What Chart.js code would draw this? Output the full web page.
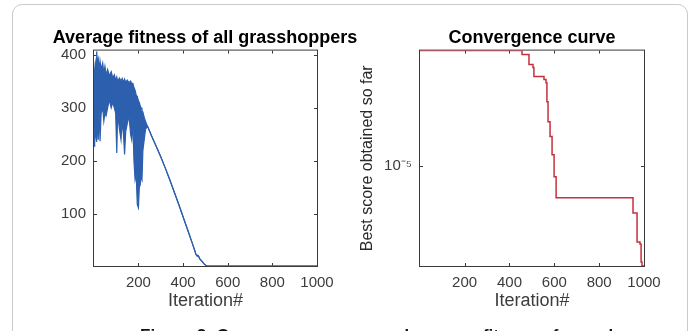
<!DOCTYPE html>
<html>
<head>
<meta charset="utf-8">
<script src="https://cdn.jsdelivr.net/npm/chart.js@4.4.1/dist/chart.umd.min.js"></script>
<style>
  html, body { margin: 0; padding: 0; background: #fff; }
  body { width: 696px; height: 331px; overflow: hidden; position: relative; }
  .frame { position: absolute; left: 12px; top: 4px; width: 674px; height: 420px; border: 1px solid #cacaca; border-radius: 10px; }
  canvas { position: absolute; left: 0; top: 0; }
  .caption { position: absolute; left: 140px; top: 326px; font: bold 17px "Liberation Sans", Arial, sans-serif; color: #111; white-space: nowrap; }
</style>
</head>
<body>
<div class="frame"></div>
<canvas id="fitnessChart" width="800" height="331"></canvas>
<canvas id="convergenceChart" width="800" height="331"></canvas>
<div class="caption">Figure 3: Convergence curve and average fitness of grasshoppers.</div>
<script>
const blue = "#2c5fae";
const red = "#c4303c";
const boxColor = "#3a3a3a";
const textColor = "#3c3c3c";

// left panel: noisy band of average fitness, then one smooth decay
const bandIters = [1, 4, 7, 10, 13, 16, 20, 24, 28, 33, 40, 45, 50, 55, 62, 70, 78, 85, 92, 98, 103, 107, 115, 122, 127, 133, 138, 143, 150, 158, 165, 170, 175, 180, 185, 190, 195, 200, 204, 208, 212, 216, 220, 226, 232, 241];
const bandHigh = [350, 372, 385, 375, 406, 385, 392, 370, 388, 372, 384, 365, 378, 362, 372, 360, 368, 356, 362, 352, 358, 350, 356, 350, 355, 348, 354, 348, 352, 347, 350, 345, 346, 338, 333, 324, 321, 313, 310, 304, 300, 295, 292, 282, 274, 265];
const bandLow = [228, 232, 300, 245, 236, 290, 240, 300, 237, 290, 300, 275, 290, 285, 300, 315, 300, 310, 300, 290, 215, 290, 260, 240, 275, 250, 212, 255, 270, 285, 250, 240, 275, 200, 165, 175, 118, 112, 150, 155, 170, 165, 220, 240, 260, 265];
const tailIters = [260, 280, 300, 320, 340, 360, 380, 400, 420, 440, 452, 458, 462, 468, 475, 485, 495, 505, 515, 600, 800, 1000];
const tailFitness = [246, 227, 208, 187, 165, 142, 119, 95, 71, 47, 32, 24, 22, 22, 16, 11, 6, 3, 2.5, 2.5, 2.5, 2.5];
const fitnessTicks = [100, 200, 300, 400];

// right panel: best score so far, stepwise on a log axis
const bestIters = [1, 456, 487, 505, 509, 554, 563, 567, 572, 581, 590, 599, 608, 951, 969, 982, 987, 991, 1000];
const bestScores = [5.23e-5, 4.94e-5, 4.28e-5, 4.1e-5, 3.6e-5, 3.45e-5, 3.3e-5, 2.51e-5, 1.88e-5, 1.52e-5, 1.17e-5, 8.53e-6, 6.31e-6, 5.08e-6, 3.35e-6, 3.25e-6, 2.51e-6, 2.37e-6, 2.37e-6];
const scoreTicks = [1e-5];

const iterTicks = [200, 400, 600, 800, 1000];

Chart.defaults.font.family = '"Liberation Sans", Arial, sans-serif';

const toPoints = (xs, ys) => xs.map((x, i) => ({ x, y: ys[i] }));

const supDigits = { "-": "\u207B", 0: "\u2070", 1: "\u00B9", 2: "\u00B2", 3: "\u00B3", 4: "\u2074", 5: "\u2075", 6: "\u2076", 7: "\u2077", 8: "\u2078", 9: "\u2079" };
const powerLabel = (v) => "10" + String(Math.round(Math.log10(v))).split("").map((c) => supDigits[c]).join("");

// matlab style box with small inward ticks
const axesBox = {
  id: "axesBox",
  beforeDatasetsDraw(chart) {
    const { ctx, chartArea: a, scales } = chart;
    ctx.save();
    ctx.strokeStyle = boxColor;
    ctx.lineWidth = 1;
    ctx.strokeRect(a.left - 0.5, a.top - 0.5, a.width + 1, a.height + 1);
    ctx.beginPath();
    scales.x.ticks.forEach((t) => {
      const px = Math.round(scales.x.getPixelForValue(t.value)) + 0.5;
      ctx.moveTo(px, a.bottom);
      ctx.lineTo(px, a.bottom - 3);
      ctx.moveTo(px, a.top);
      ctx.lineTo(px, a.top + 3);
    });
    scales.y.ticks.forEach((t) => {
      const py = Math.round(scales.y.getPixelForValue(t.value)) + 0.5;
      ctx.moveTo(a.left, py);
      ctx.lineTo(a.left + 3, py);
      ctx.moveTo(a.right, py);
      ctx.lineTo(a.right - 3, py);
    });
    ctx.stroke();
    ctx.restore();
  },
};

const iterationAxis = () => ({
  type: "linear",
  min: 1,
  max: 1000,
  afterBuildTicks: (s) => {
    s.ticks = iterTicks.map((v) => ({ value: v }));
  },
  afterFit: (s) => {
    s.height = 65;
  },
  grid: { display: false, drawTicks: false },
  border: { display: false },
  ticks: { color: textColor, font: { size: 15 }, padding: 8, maxRotation: 0, autoSkip: false, callback: (v) => String(v) },
  title: { display: true, text: "Iteration#", color: textColor, font: { size: 18 }, padding: { top: 0, bottom: 19 } },
});

// empty axis on the right, only there to centre the title over the box
const spacerAxis = (w) => ({
  type: "linear",
  position: "right",
  afterFit: (s) => {
    s.width = w;
  },
  grid: { display: false, drawTicks: false },
  border: { display: false },
  ticks: { display: false },
});

const titleOpts = (text) => ({
  display: true,
  text,
  color: "#000",
  font: { size: 18, weight: "bold" },
  padding: { top: 0, bottom: 2 },
});

new Chart(document.getElementById("fitnessChart"), {
  type: "line",
  data: {
    datasets: [
      {
        data: toPoints(bandIters.concat(tailIters), bandHigh.concat(tailFitness)),
        borderColor: blue,
        borderWidth: 1.2,
        pointRadius: 0,
        fill: false,
      },
      {
        data: toPoints(bandIters.concat(tailIters), bandLow.concat(tailFitness)),
        borderColor: blue,
        backgroundColor: blue,
        borderWidth: 1.2,
        pointRadius: 0,
        fill: "-1",
      },
    ],
  },
  options: {
    responsive: false,
    animation: false,
    devicePixelRatio: 1,
    layout: { padding: { top: 27, left: 0, right: 390, bottom: 0 } },
    plugins: {
      legend: { display: false },
      tooltip: { enabled: false },
      title: titleOpts("Average fitness of all grasshoppers"),
    },
    scales: {
      x: iterationAxis(),
      y: {
        type: "linear",
        min: 2.5,
        max: 407.5,
        afterBuildTicks: (s) => {
          s.ticks = fitnessTicks.map((v) => ({ value: v }));
        },
        afterFit: (s) => {
          s.width = 94;
        },
        grid: { display: false, drawTicks: false },
        border: { display: false },
        ticks: { color: textColor, font: { size: 15 }, padding: 8 },
      },
      y2: spacerAxis(93),
    },
  },
  plugins: [axesBox],
});

new Chart(document.getElementById("convergenceChart"), {
  type: "line",
  data: {
    datasets: [
      {
        data: toPoints(bestIters, bestScores),
        borderColor: red,
        borderWidth: 1.5,
        pointRadius: 0,
        stepped: true,
        fill: false,
      },
    ],
  },
  options: {
    responsive: false,
    animation: false,
    devicePixelRatio: 1,
    layout: { padding: { top: 27, left: 340, right: 76, bottom: 0 } },
    plugins: {
      legend: { display: false },
      tooltip: { enabled: false },
      title: titleOpts("Convergence curve"),
    },
    scales: {
      x: iterationAxis(),
      y: {
        type: "logarithmic",
        min: 2.37e-6,
        max: 5.23e-5,
        afterBuildTicks: (s) => {
          s.ticks = scoreTicks.map((v) => ({ value: v }));
        },
        afterFit: (s) => {
          s.width = 80;
        },
        grid: { display: false, drawTicks: false },
        border: { display: false },
        ticks: { color: textColor, font: { size: 15 }, padding: 8, callback: (v) => powerLabel(v) },
        title: {
          display: true,
          text: "Best score obtained so far",
          color: "#2a2a2a",
          font: { size: 16 },
          padding: { top: 18, bottom: 0 },
        },
      },
      y2: spacerAxis(80),
    },
  },
  plugins: [axesBox],
});
</script>
</body>
</html>
